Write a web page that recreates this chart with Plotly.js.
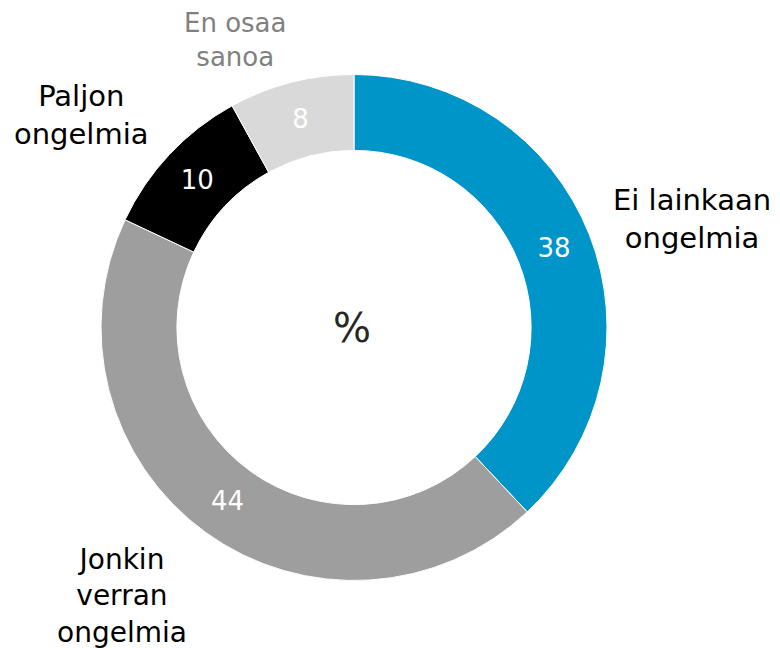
<!DOCTYPE html>
<html>
<head>
<meta charset="utf-8">
<script src="https://cdn.plot.ly/plotly-3.0.1.min.js"></script>
<style>html,body{margin:0;padding:0;background:#fff;}#chart{width:780px;height:648px;}</style>
</head>
<body>
<div id="chart"></div>
<script>
var categories = ["Ei lainkaan ongelmia", "Jonkin verran ongelmia", "Paljon ongelmia", "En osaa sanoa"];
var values = [38, 44, 10, 8];
var colors = ["#0095C8", "#9E9E9E", "#000000", "#D9D9D9"];
var labelLines = ["Ei lainkaan<br>ongelmia", "Jonkin<br>verran<br>ongelmia", "Paljon<br>ongelmia", "En osaa<br>sanoa"];
var labelColors = ["#000000", "#000000", "#000000", "#808080"];
var labelSizes = [29, 28, 29, 26];

var W = 780, H = 648;
var cx = 354, cy = 327.5, R = 253;

var trace = {
  type: "pie",
  values: values,
  labels: categories,
  text: values.map(String),
  textinfo: "text",
  textposition: "inside",
  insidetextorientation: "horizontal",
  textfont: {family: "DejaVu Sans, Verdana, sans-serif", size: 26, color: "#ffffff"},
  marker: {colors: colors, line: {color: "#ffffff", width: 1}},
  hole: 0.7,
  sort: false,
  direction: "clockwise",
  rotation: 0,
  showlegend: false,
  hoverinfo: "label+value",
  domain: {x: [(cx - R) / W, (cx + R) / W], y: [(H - cy - R) / H, (H - cy + R) / H]}
};

var labelPos = [
  {x: 692, y: 219},
  {x: 122, y: 596},
  {x: 81, y: 115},
  {x: 236, y: 40}
];

var annotations = categories.map(function (c, i) {
  return {
    text: labelLines[i],
    x: labelPos[i].x / W, y: 1 - labelPos[i].y / H,
    xref: "paper", yref: "paper",
    xanchor: "center", yanchor: "middle",
    showarrow: false, align: "center",
    font: {family: "DejaVu Sans, Verdana, sans-serif", size: labelSizes[i], color: labelColors[i]}
  };
});
annotations.push({
  text: "%", x: 352 / W, y: 1 - 328 / H, xref: "paper", yref: "paper",
  xanchor: "center", yanchor: "middle", showarrow: false,
  font: {family: "DejaVu Sans, Verdana, sans-serif", size: 40, color: "#262626"}
});

var layout = {
  width: W, height: H,
  margin: {l: 0, r: 0, t: 0, b: 0},
  paper_bgcolor: "#ffffff",
  showlegend: false,
  uniformtext: {mode: "show", minsize: 26},
  annotations: annotations
};

Plotly.newPlot("chart", [trace], layout, {displayModeBar: false, staticPlot: true});
</script>
</body>
</html>
